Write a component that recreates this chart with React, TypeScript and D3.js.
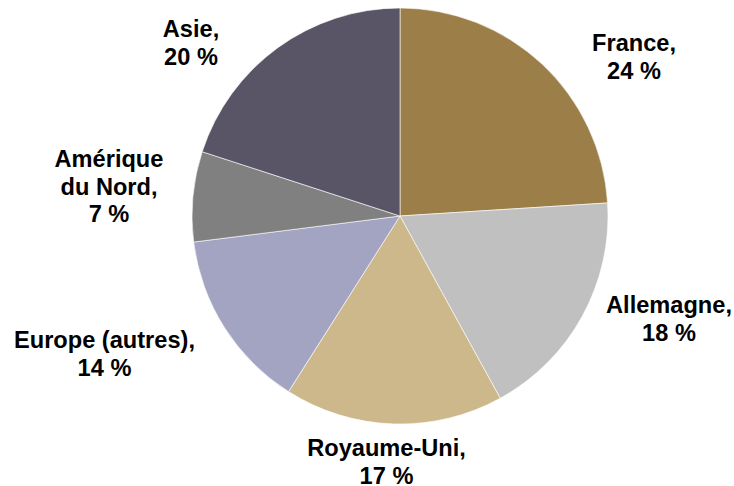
import React from "react";
import * as d3 from "d3";

const categories = ["France", "Allemagne", "Royaume-Uni", "Europe (autres)", "Amérique du Nord", "Asie"];
const values = [24, 18, 17, 14, 7, 20];
const labelLines = [
  ["France,", "24 %"],
  ["Allemagne,", "18 %"],
  ["Royaume-Uni,", "17 %"],
  ["Europe (autres),", "14 %"],
  ["Amérique", "du Nord,", "7 %"],
  ["Asie,", "20 %"],
];
const colors = ["#9C7E48", "#C0C0C0", "#CDB88C", "#A3A3C2", "#808080", "#595566"];
// label anchor (center x, first baseline y)
const labelAnchors: [number, number][] = [
  [634, 51],
  [669, 313],
  [386.5, 456],
  [104.5, 348],
  [109, 167],
  [191, 37],
];

const W = 734;
const H = 486;
const CX = 400;
const CY = 216;
const R = 208;
const FONT = 23.6;
const LH = 27.5;

export default function App() {
  const pie = d3.pie<number>().sort(null).value((d) => d)(values);
  const arc = d3.arc<d3.PieArcDatum<number>>().innerRadius(0).outerRadius(R);
  return (
    <svg
      width={W}
      height={H}
      style={{ position: "absolute", left: 0, top: 0 }}
      fontFamily="'Liberation Sans', Arial, sans-serif"
    >
      <rect width={W} height={H} fill="#fff" />
      <g transform={`translate(${CX},${CY})`}>
        {pie.map((p, i) => (
          <path key={categories[i]} d={arc(p) || ""} fill={colors[i]} stroke="#ffffff" strokeWidth={0.6} />
        ))}
      </g>
      {labelLines.map((lines, i) => (
        <text
          key={categories[i]}
          x={labelAnchors[i][0]}
          y={labelAnchors[i][1]}
          textAnchor="middle"
          fontSize={FONT}
          fontWeight="bold"
          fill="#000"
        >
          {lines.map((l, j) => (
            <tspan key={j} x={labelAnchors[i][0]} y={labelAnchors[i][1] + j * LH}>
              {l}
            </tspan>
          ))}
        </text>
      ))}
    </svg>
  );
}
